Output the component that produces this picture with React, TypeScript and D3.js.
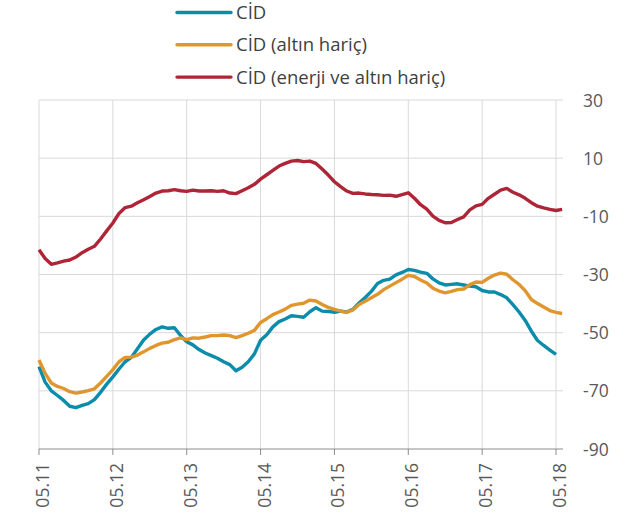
import React from "react";
import { scaleLinear, line } from "d3";

// monthly, index 0 = 05.11
const cid: number[] = [
  -61.7, -67, -70, -71.6, -73.3, -75.3, -75.8, -75, -74.4, -73, -70.5, -67.7,
  -65.2, -62.5, -60, -58.5, -55.5, -52.5, -50.5, -48.9, -48, -48.5, -48.3, -51,
  -53.1, -54.2, -55.8, -57, -57.9, -58.8, -60, -61, -63.1, -61.9, -60, -57.3,
  -52.6, -50.7, -48, -46.2, -45.3, -44.2, -44.4, -44.7, -42.8, -41.4, -42.6, -42.7,
  -43, -42.6, -42.9, -42, -39.8, -37.9, -35.8, -33.1, -32, -31.6, -30.1, -29.3,
  -28.3, -28.6, -29.2, -29.6, -31.5, -32.9, -33.6, -33.4, -33.2, -33.6, -34, -34.2,
  -35.5, -36, -36, -36.9, -38, -40.4, -42.9, -45.8, -49.5, -52.7, -54.4, -56,
  -57.5,
];

const cidAltin: number[] = [
  -59.4, -64, -67.3, -68.5, -69.2, -70.3, -70.8, -70.4, -69.9, -69.3, -67.3, -65,
  -62.7, -60, -58.5, -58.4, -57.7, -56.6, -55.4, -54.4, -53.6, -53.3, -52.4, -51.8,
  -52.4, -51.8, -51.9, -51.5, -51, -51, -50.8, -51, -51.7, -51, -50.2, -49.2,
  -46.5, -45.2, -43.8, -42.9, -41.9, -40.6, -40.2, -39.9, -38.8, -39.1, -40.3, -41.3,
  -42, -42.6, -43, -42.2, -40.3, -39.2, -38, -36.8, -35.2, -34, -32.8, -31.6,
  -30.3, -30.7, -31.9, -32.9, -34.7, -35.7, -36.3, -35.8, -35.2, -35, -33.5, -32.6,
  -32.7, -31.3, -30.2, -29.5, -29.9, -31.8, -33.4, -35.6, -38.6, -40, -41.2, -42.4,
  -43, -43.4,
];

const cidEnerjiAltin: number[] = [
  -21.5, -24.5, -26.5, -26, -25.4, -25, -24, -22.5, -21.3, -20.3, -17.8, -15,
  -12.3, -9, -7, -6.5, -5.3, -4.3, -3.2, -2, -1.3, -1.2, -0.8, -1.2,
  -1.4, -1, -1.3, -1.3, -1.2, -1.4, -1.2, -2, -2.2, -1.2, -0.2, 1.0,
  2.8, 4.3, 5.8, 7.3, 8.2, 9.0, 9.2, 8.8, 9.0, 8.2, 6.3, 4.2,
  1.9, 0.2, -1.3, -2.1, -2.0, -2.3, -2.5, -2.6, -2.8, -2.7, -3.1, -2.5,
  -1.9, -3.8, -6.0, -7.5, -9.9, -11.4, -12.2, -12.1, -11.1, -10.2, -7.8, -6.4,
  -5.9, -3.8, -2.4, -1.0, -0.4, -1.7, -2.6, -3.8, -5.3, -6.5, -7.1, -7.6,
  -8, -7.6,
];

const yTicks = [30, 10, -10, -30, -50, -70, -90];
const yearLabels = ["05.11", "05.12", "05.13", "05.14", "05.15", "05.16", "05.17", "05.18"];

const series = [
  { name: "CİD", values: cid, color: "#0a8caa" },
  { name: "CİD (altın hariç)", values: cidAltin, color: "#e0962f" },
  { name: "CİD (enerji ve altın hariç)", values: cidEnerjiAltin, color: "#ae2537" },
];

export default function App() {
  const width = 627;
  const height = 515;
  const left = 39;
  const right = 563;
  const top = 100;
  const bottom = 449;

  const x = scaleLinear().domain([0, 84]).range([left, 556]);
  const y = scaleLinear().domain([-90, 30]).range([bottom, top]);

  const mk = line<number>()
    .x((_, i) => x(i))
    .y((d) => y(d));

  const font = "'Open Sans', 'DejaVu Sans', sans-serif";

  return (
    <svg
      width={width}
      height={height}
      style={{ position: "absolute", left: 0, top: 0, background: "#fff" }}
      fontFamily={font}
    >
      {/* grid */}
      {yTicks.slice(0, -1).map((t) => (
        <line key={"h" + t} x1={left} x2={right} y1={y(t)} y2={y(t)} stroke="#d9d9d9" strokeWidth={1} />
      ))}
      {yearLabels.map((l, i) => (
        <line key={"v" + l} x1={x(i * 12)} x2={x(i * 12)} y1={top} y2={bottom} stroke="#d9d9d9" strokeWidth={1} />
      ))}
      {/* x axis */}
      <line x1={left} x2={right} y1={bottom} y2={bottom} stroke="#8c8c8c" strokeWidth={1} />
      {yearLabels.map((l, i) => (
        <line key={"t" + l} x1={x(i * 12)} x2={x(i * 12)} y1={bottom} y2={bottom + 6} stroke="#8c8c8c" strokeWidth={1} />
      ))}
      {yearLabels.map((l, i) => (
        <text
          key={"xl" + l}
          transform={`translate(${x(i * 12) + 10},${bottom + 14}) rotate(-90)`}
          textAnchor="end"
          fontSize={17.5}
          fill="#595959"
        >
          {l}
        </text>
      ))}
      {/* y labels */}
      {yTicks.map((t) => (
        <text key={"yl" + t} x={583} y={y(t) + 6.5} fontSize={17.5} fill="#595959">
          {t}
        </text>
      ))}
      {/* lines */}
      {series.map((s) => (
        <path
          key={s.name}
          d={mk(s.values) || ""}
          fill="none"
          stroke={s.color}
          strokeWidth={3.4}
          strokeLinejoin="round"
        />
      ))}
      {/* legend */}
      {series.map((s, i) => (
        <g key={"lg" + s.name}>
          <line x1={177} x2={231} y1={12.5 + i * 32.3} y2={12.5 + i * 32.3} stroke={s.color} strokeWidth={3.4} strokeLinecap="round" />
          <text x={236} y={19 + i * 32.3} fontSize={18.5} fill="#404040">
            {s.name}
          </text>
        </g>
      ))}
    </svg>
  );
}
